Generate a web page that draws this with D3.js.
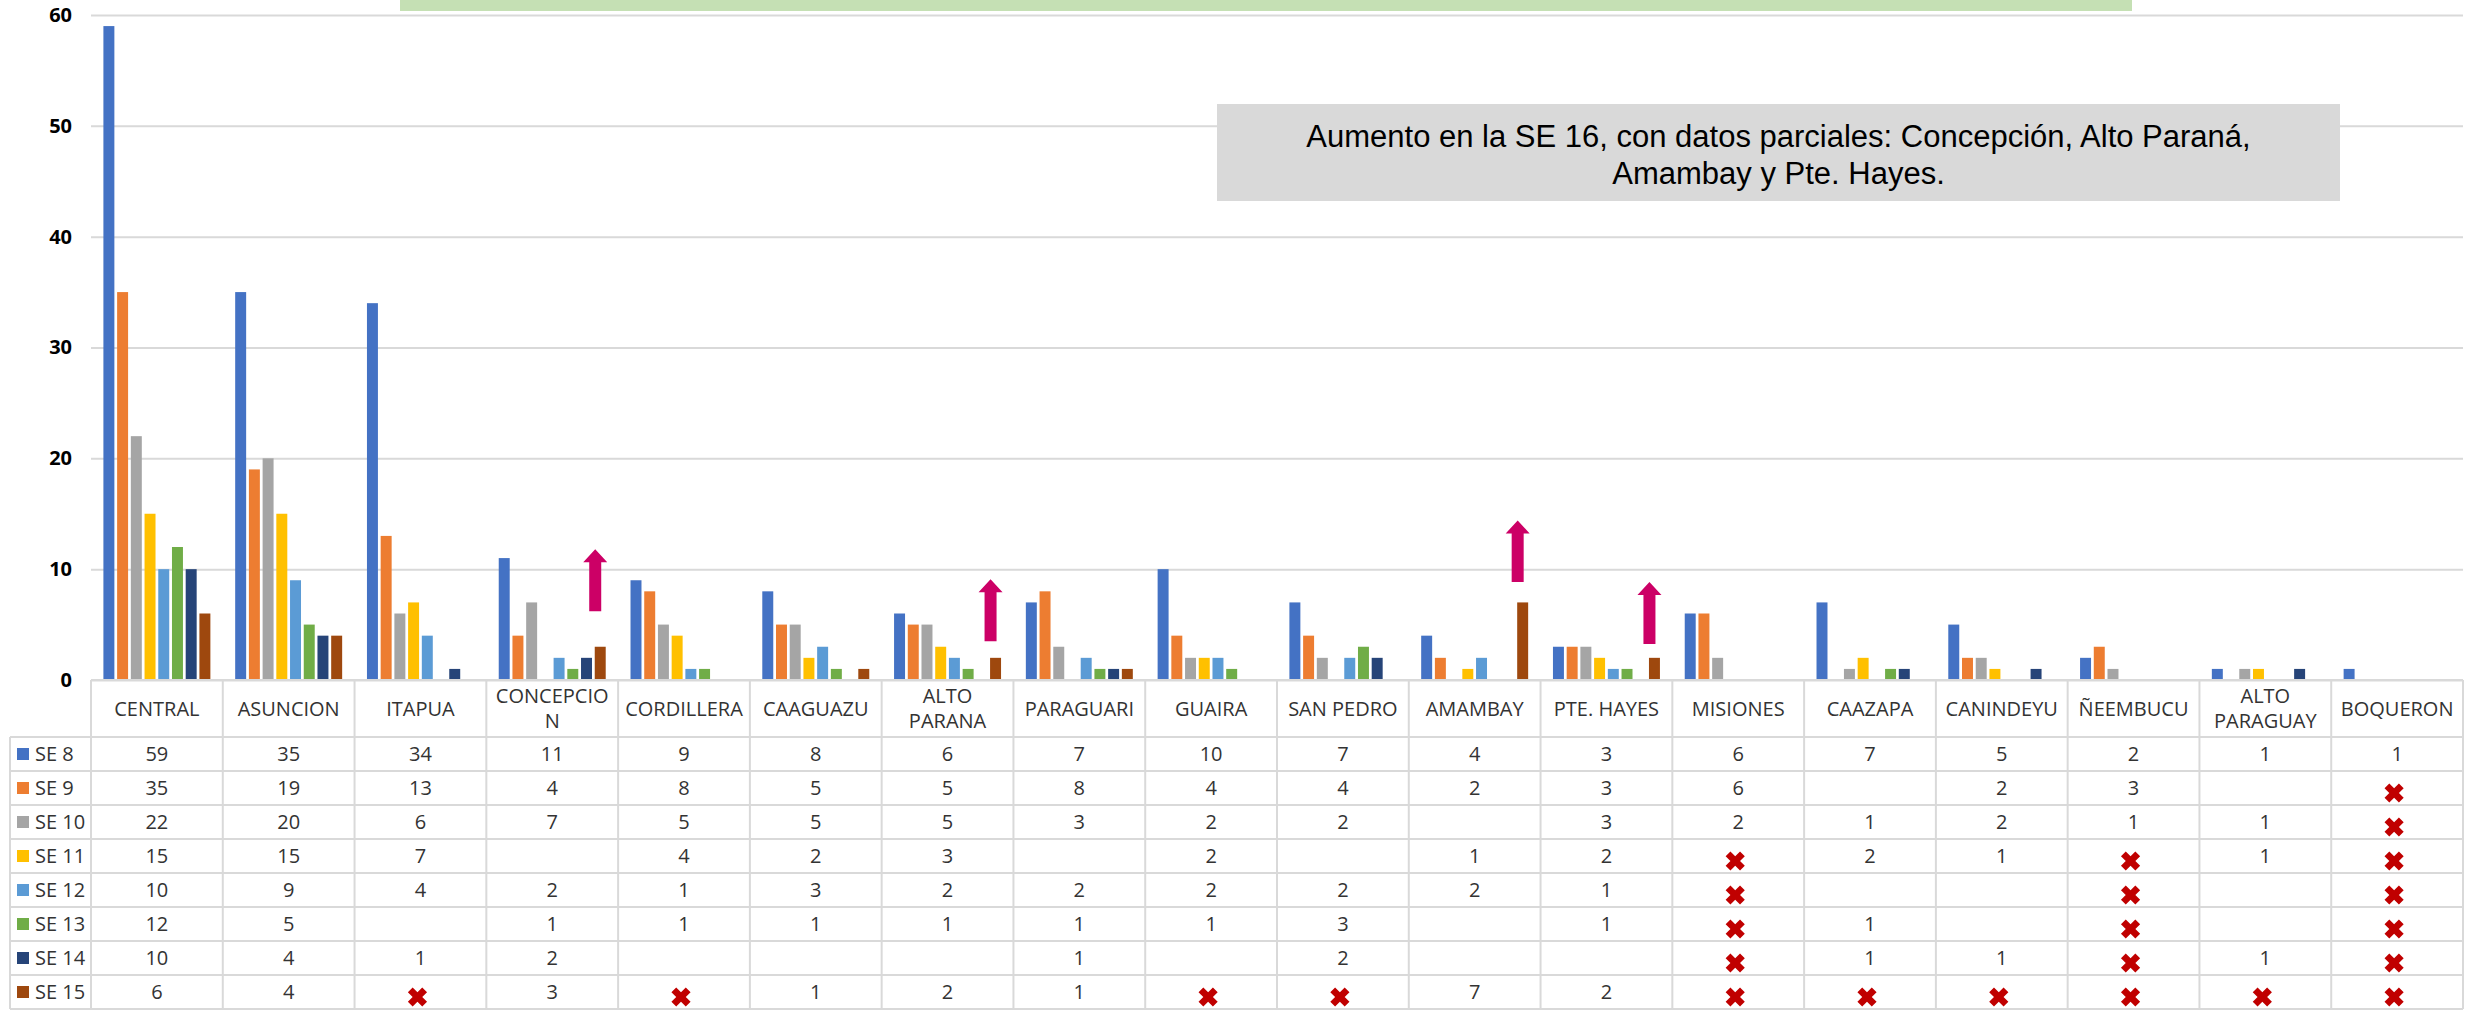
<!DOCTYPE html>
<html>
<head>
<meta charset="utf-8">
<script src="https://cdn.jsdelivr.net/npm/d3@7"></script>
<style>
  html, body { margin: 0; padding: 0; background: #fff; }
  svg { display: block; }
</style>
</head>
<body>
<svg id="chart" width="2473" height="1012"></svg>
<script>
// Departments (header labels; "\n" marks a line break in the table header)
const categories = [
  "CENTRAL", "ASUNCION", "ITAPUA", "CONCEPCIO\nN", "CORDILLERA", "CAAGUAZU",
  "ALTO\nPARANA", "PARAGUARI", "GUAIRA", "SAN PEDRO", "AMAMBAY", "PTE. HAYES",
  "MISIONES", "CAAZAPA", "CANINDEYU", "ÑEEMBUCU", "ALTO\nPARAGUAY", "BOQUERON"
];

// Epidemiological weeks
const series = ["SE 8", "SE 9", "SE 10", "SE 11", "SE 12", "SE 13", "SE 14", "SE 15"];

// Cases per department and week (null = empty cell)
const se8  = [59, 35, 34, 11, 9, 8, 6, 7, 10, 7, 4, 3, 6, 7, 5, 2, 1, 1];
const se9  = [35, 19, 13, 4, 8, 5, 5, 8, 4, 4, 2, 3, 6, null, 2, 3, null, null];
const se10 = [22, 20, 6, 7, 5, 5, 5, 3, 2, 2, null, 3, 2, 1, 2, 1, 1, null];
const se11 = [15, 15, 7, null, 4, 2, 3, null, 2, null, 1, 2, null, 2, 1, null, 1, null];
const se12 = [10, 9, 4, 2, 1, 3, 2, 2, 2, 2, 2, 1, null, null, null, null, null, null];
const se13 = [12, 5, null, 1, 1, 1, 1, 1, 1, 3, null, 1, null, 1, null, null, null, null];
const se14 = [10, 4, 1, 2, null, null, null, 1, null, 2, null, null, null, 1, 1, null, 1, null];
const se15 = [6, 4, null, 3, null, 1, 2, 1, null, null, 7, 2, null, null, null, null, null, null];
const seriesValues = [se8, se9, se10, se11, se12, se13, se14, se15];

const colors = ["#4472C4", "#ED7D31", "#A5A5A5", "#FFC000", "#5B9BD5", "#70AD47", "#264478", "#9E480E"];

const yTicks = [0, 10, 20, 30, 40, 50, 60];

// Rising trend markers (department, start value, end value)
const arrowCats = ["CONCEPCIO\nN", "ALTO\nPARANA", "AMAMBAY", "PTE. HAYES"];
const arrowFrom = [6.2, 3.5, 8.85, 3.25];
const arrowTo   = [11.8, 9.1, 14.4, 8.85];

// Cells marked as missing / not reported (department, week)
const crossCats = [
  "ITAPUA", "CORDILLERA", "GUAIRA", "SAN PEDRO",
  "MISIONES", "MISIONES", "MISIONES", "MISIONES", "MISIONES",
  "CAAZAPA", "CANINDEYU",
  "ÑEEMBUCU", "ÑEEMBUCU", "ÑEEMBUCU", "ÑEEMBUCU", "ÑEEMBUCU",
  "ALTO\nPARAGUAY",
  "BOQUERON", "BOQUERON", "BOQUERON", "BOQUERON", "BOQUERON", "BOQUERON", "BOQUERON"
];
const crossWeeks = [
  "SE 15", "SE 15", "SE 15", "SE 15",
  "SE 11", "SE 12", "SE 13", "SE 14", "SE 15",
  "SE 15", "SE 15",
  "SE 11", "SE 12", "SE 13", "SE 14", "SE 15",
  "SE 15",
  "SE 9", "SE 10", "SE 11", "SE 12", "SE 13", "SE 14", "SE 15"
];

const noteLines = [
  "Aumento en la SE 16, con datos parciales: Concepción, Alto Paraná,",
  "Amambay y Pte. Hayes."
];

// ---- layout ----
const svg = d3.select("#chart");
const plotLeft = 91, plotRight = 2463;
const plotTop = 15, baseY = 680;
const headerBottom = 737, tableBottom = 1009;
const legendLeft = 10;
const gridColor = "#D9D9D9";
const textColor = "#333333";
const font = "'Open Sans', 'Noto Sans', sans-serif";

const x0 = d3.scaleBand().domain(categories).range([plotLeft, plotRight]).padding(0);
const bw = x0.bandwidth();
const x1 = d3.scaleBand().domain(series).range([12.4, bw - 12.4]).paddingInner(0.2);
const y = d3.scaleLinear().domain([0, 60]).range([baseY, plotTop]);
const rowY = d3.scaleBand().domain(series).range([headerBottom, tableBottom]);

// top banner strip
svg.append("rect")
  .attr("x", 400).attr("y", 0).attr("width", 1732).attr("height", 11)
  .attr("fill", "#C5E0B4");

// y axis with gridlines
const yAxis = d3.axisLeft(y).tickValues(yTicks).tickSize(-(plotRight - plotLeft)).tickPadding(19);
const gy = svg.append("g").attr("transform", `translate(${plotLeft},0)`).call(yAxis);
gy.select(".domain").remove();
gy.selectAll(".tick line").attr("stroke", gridColor).attr("stroke-width", 2);
gy.selectAll(".tick text")
  .attr("font-family", font).attr("font-size", 20).attr("font-weight", "bold")
  .attr("fill", "#000");

// bars
const groups = svg.append("g").selectAll("g")
  .data(categories)
  .join("g")
  .attr("transform", d => `translate(${x0(d)},0)`);

groups.selectAll("rect")
  .data((d, i) => series.map((s, j) => ({ s, j, v: seriesValues[j][i] })).filter(e => e.v != null))
  .join("rect")
  .attr("x", e => x1(e.s))
  .attr("width", x1.bandwidth())
  .attr("y", e => y(e.v))
  .attr("height", e => y(0) - y(e.v))
  .attr("fill", e => colors[e.j]);

// arrows
const shaftW = 12, headW = 24, headL = 13;
svg.append("g").selectAll("path")
  .data(arrowCats.map((c, i) => ({ c, from: arrowFrom[i], to: arrowTo[i] })))
  .join("path")
  .attr("d", a => {
    const cx = x0(a.c) + x1("SE 15") + x1.bandwidth() / 2 - 5;
    const yb = y(a.from), yt = y(a.to), yh = yt + headL;
    return `M${cx - shaftW / 2},${yb} L${cx - shaftW / 2},${yh} L${cx - headW / 2},${yh} L${cx},${yt} ` +
           `L${cx + headW / 2},${yh} L${cx + shaftW / 2},${yh} L${cx + shaftW / 2},${yb} Z`;
  })
  .attr("fill", "#CC0066");

// data table grid
const grid = svg.append("g").attr("stroke", gridColor).attr("stroke-width", 2).attr("fill", "none");
// horizontal rules
grid.append("line").attr("x1", plotLeft).attr("x2", plotRight).attr("y1", baseY).attr("y2", baseY);
[headerBottom, ...series.map(s => rowY(s) + rowY.bandwidth())].forEach(yy => {
  grid.append("line").attr("x1", legendLeft).attr("x2", plotRight).attr("y1", yy).attr("y2", yy);
});
// vertical rules
grid.append("line").attr("x1", legendLeft).attr("x2", legendLeft).attr("y1", headerBottom).attr("y2", tableBottom);
[...categories.map(c => x0(c)), plotRight].forEach(xx => {
  grid.append("line").attr("x1", xx).attr("x2", xx).attr("y1", baseY).attr("y2", tableBottom);
});

// header labels
const header = svg.append("g")
  .attr("font-family", font).attr("font-size", 20).attr("fill", textColor).attr("text-anchor", "middle");
categories.forEach(c => {
  const lines = c.split("\n");
  const cy = (baseY + headerBottom) / 2;
  const lh = 25;
  lines.forEach((ln, k) => {
    header.append("text")
      .attr("x", x0(c) + bw / 2)
      .attr("y", cy + (k - (lines.length - 1) / 2) * lh)
      .attr("dy", "0.35em")
      .text(ln);
  });
});

// legend column
const legend = svg.append("g").attr("font-family", font).attr("font-size", 20).attr("fill", textColor);
series.forEach((s, j) => {
  const cy = rowY(s) + rowY.bandwidth() / 2;
  legend.append("rect").attr("x", 17).attr("y", cy - 6).attr("width", 12).attr("height", 12).attr("fill", colors[j]);
  legend.append("text").attr("x", 35).attr("y", cy).attr("dy", "0.35em").text(s);
});

// value cells
const cells = svg.append("g")
  .attr("font-family", font).attr("font-size", 20).attr("fill", textColor).attr("text-anchor", "middle");
series.forEach((s, j) => {
  categories.forEach((c, i) => {
    const v = seriesValues[j][i];
    if (v == null) return;
    cells.append("text")
      .attr("x", x0(c) + bw / 2)
      .attr("y", rowY(s) + rowY.bandwidth() / 2)
      .attr("dy", "0.35em")
      .text(v);
  });
});

// crosses for missing reports
const crossShape = d3.symbol(d3.symbolCross, 230);
svg.append("g").selectAll("path")
  .data(crossCats.map((c, i) => ({ c, s: crossWeeks[i] })))
  .join("path")
  .attr("d", crossShape)
  .attr("transform", d => `translate(${x0(d.c) + bw / 2 - 3},${rowY(d.s) + rowY.bandwidth() / 2 + 5}) rotate(45)`)
  .attr("fill", "#C00000");

// annotation box
const note = svg.append("g");
note.append("rect")
  .attr("x", 1217).attr("y", 104).attr("width", 1123).attr("height", 97)
  .attr("fill", "#D9D9D9");
noteLines.forEach((ln, k) => {
  note.append("text")
    .attr("x", 1217 + 1123 / 2)
    .attr("y", 136 + k * 37)
    .attr("dy", "0.35em")
    .attr("text-anchor", "middle")
    .attr("font-family", "'Liberation Sans', Arial, sans-serif")
    .attr("font-size", 31)
    .attr("fill", "#000")
    .text(ln);
});
</script>
</body>
</html>
